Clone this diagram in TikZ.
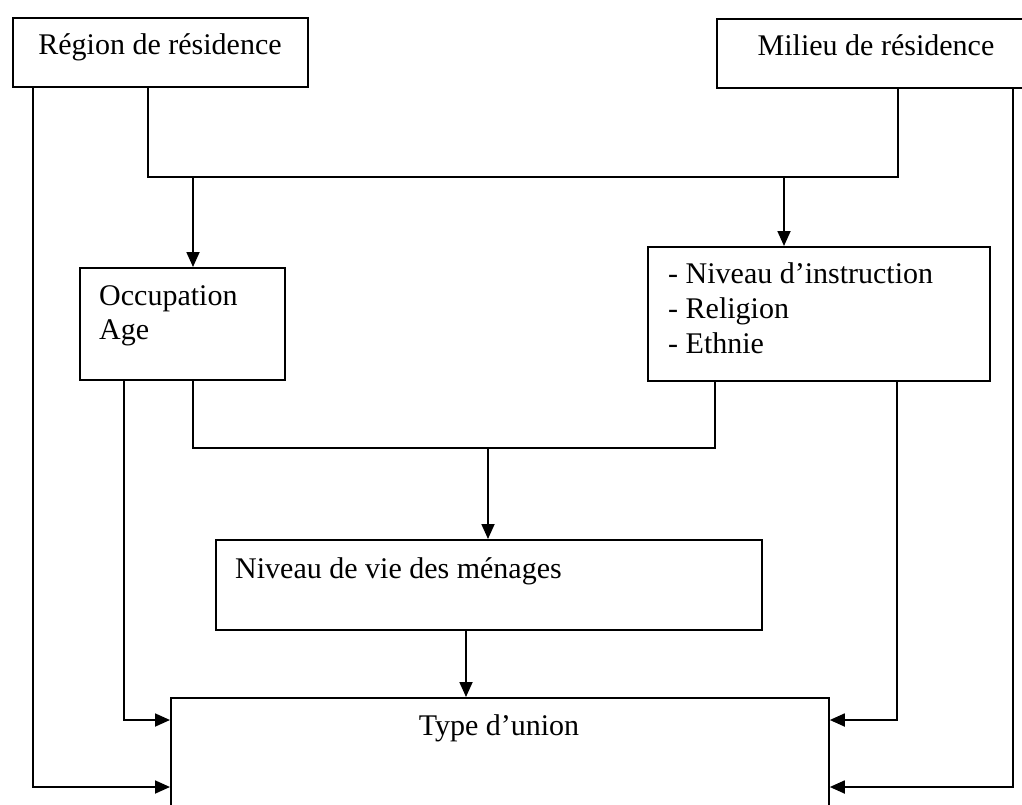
\documentclass[tikz,border=0pt]{standalone}
\usepackage{fontspec}
\setmainfont{Liberation Serif}
\usetikzlibrary{arrows.meta}
\tikzset{
  boxnode/.style={draw=black, line width=1.8pt, rectangle, inner sep=0pt, anchor=north west},
  txt/.style={inner sep=0pt, font=\fontsize{30}{36}\selectfont},
  conn/.style={draw=black, line width=1.8pt},
  arr/.style={conn, -{Triangle[length=15pt,width=13pt]}}
}
\begin{document}
\begin{tikzpicture}[x=1pt,y=-1pt]
\useasboundingbox (0,0) rectangle (1022,805);
\fill[white] (0,0) rectangle (1022,805);
\clip (0,0) rectangle (1022,805);
% boxes
\node[boxnode, minimum width=295pt, minimum height=69pt] (reg) at (12,17) {};
\node[boxnode, minimum width=320pt, minimum height=69pt] (mil) at (716,18) {};
\node[boxnode, minimum width=205pt, minimum height=112pt] (occ) at (79,267) {};
\node[boxnode, minimum width=342pt, minimum height=134pt] (niv) at (647,246) {};
\node[boxnode, minimum width=546pt, minimum height=90pt] (vie) at (215,539) {};
\node[boxnode, minimum width=658pt, minimum height=130pt] (typ) at (170,697) {};
% texts
\node[txt, anchor=base] (regt) at (160,55) {Région de résidence};
\node[txt, anchor=base] (milt) at (876,56) {Milieu de résidence};
\node[txt, anchor=base west] (occt1) at (99,305) {Occupation};
\node[txt, anchor=base west] (occt2) at (99,339) {Age};
\node[txt, anchor=base west] (nivt1) at (668,283) {- Niveau d’instruction};
\node[txt, anchor=base west] (nivt2) at (668,318) {- Religion};
\node[txt, anchor=base west] (nivt3) at (668,353) {- Ethnie};
\node[txt, anchor=base west] (viet) at (235,578) {Niveau de vie des ménages};
\node[txt, anchor=base] (typt) at (499,735) {Type d’union};
% junction coordinates
\coordinate (j1a) at (148,177);
\coordinate (j1b) at (898,177);
\coordinate (j2a) at (193,448);
\coordinate (j2b) at (715,448);
% connectors
\draw[arr] (reg.south -| 33,0) |- (typ.west |- 0,787);
\draw[conn] (reg.south -| j1a) -- (j1a) -- (j1b) -- (mil.south -| j1b);
\draw[arr] (193,177) -- (occ.north -| 193,0);
\draw[arr] (784,177) -- (niv.north -| 784,0);
\draw[arr] (mil.south -| 1013,0) |- (typ.east |- 0,787);
\draw[arr] (occ.south -| 124,0) |- (typ.west |- 0,720);
\draw[conn] (occ.south -| j2a) -- (j2a) -- (j2b) -- (niv.south -| j2b);
\draw[arr] (488,448) -- (vie.north -| 488,0);
\draw[arr] (niv.south -| 897,0) |- (typ.east |- 0,720);
\draw[arr] (vie.south -| 466,0) -- (typ.north -| 466,0);
\end{tikzpicture}
\end{document}
